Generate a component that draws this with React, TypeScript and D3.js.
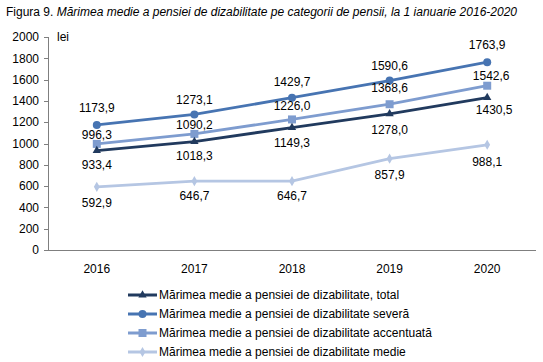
import React from "react";
import * as d3 from "d3";

const years = ["2016", "2017", "2018", "2019", "2020"];
const totalValues = [933.4, 1018.3, 1149.3, 1278.0, 1430.5];
const severaValues = [1173.9, 1273.1, 1429.7, 1590.6, 1763.9];
const accentuataValues = [996.3, 1090.2, 1226.0, 1368.6, 1542.6];
const medieValues = [592.9, 646.7, 646.7, 857.9, 988.1];
const yTicks = [0, 200, 400, 600, 800, 1000, 1200, 1400, 1600, 1800, 2000];
const seriesNames = [
  "Mărimea medie a pensiei de dizabilitate, total",
  "Mărimea medie a pensiei de dizabilitate severă",
  "Mărimea medie a pensiei de dizabilitate accentuată",
  "Mărimea medie a pensiei de dizabilitate medie",
];

const W = 543;
const H = 362;
const FONT = "'Liberation Sans', Arial, sans-serif";

type Series = {
  name: string;
  values: number[];
  color: string;
  marker: "triangle" | "circle" | "square" | "diamond";
  labelDy: number[];
  labelDx: number[];
};

const series: Series[] = [
  { name: seriesNames[0], values: totalValues, color: "#213A5E", marker: "triangle", labelDy: [14, 14, 15, 16, 12], labelDx: [0, 0, 0, 0, 7] },
  { name: seriesNames[1], values: severaValues, color: "#4774B2", marker: "circle", labelDy: [-17, -15, -16, -15, -17], labelDx: [0, 0, 0, 0, 0] },
  { name: seriesNames[2], values: accentuataValues, color: "#7E9CCF", marker: "square", labelDy: [-9, -9, -14, -16, -10], labelDx: [0, 0, 0, 0, 4] },
  { name: seriesNames[3], values: medieValues, color: "#B5C6E3", marker: "diamond", labelDy: [16, 15, 15, 16, 17], labelDx: [0, 0, 0, 0, 0] },
];

function Marker({ type, x, y, color }: { type: string; x: number; y: number; color: string }) {
  if (type === "circle") return <circle cx={x} cy={y} r={4} fill={color} />;
  if (type === "square") return <rect x={x - 4} y={y - 4} width={8} height={8} fill={color} />;
  if (type === "triangle") {
    const sym = d3.symbol().type(d3.symbolTriangle).size(30)();
    return <path d={sym || ""} transform={`translate(${x},${y})`} fill={color} />;
  }
  const sym = d3.symbol().type(d3.symbolDiamond).size(30)();
  return <path d={sym || ""} transform={`translate(${x},${y})`} fill={color} />;
}

export default function App() {
  const x = d3.scaleBand<string>().domain(years).range([48, 536]);
  const y = d3.scaleLinear().domain([0, 2000]).range([250, 37]);
  const cx = (yr: string) => (x(yr) as number) + x.bandwidth() / 2;
  const fmt = (v: number) => v.toFixed(1).replace(".", ",");

  const line = d3
    .line<number>()
    .x((_, i) => cx(years[i]))
    .y((d) => y(d));

  return (
    <svg width={W} height={H} style={{ position: "absolute", left: 0, top: 0, fontFamily: FONT }}>
      <rect width={W} height={H} fill="#fff" />
      <text x={6} y={16} fontSize={12} fill="#000">
        Figura 9. <tspan fontStyle="italic">Mărimea medie a pensiei de dizabilitate pe categorii de pensii, la 1 ianuarie 2016-2020</tspan>
      </text>
      {/* axes */}
      <line x1={48.5} x2={48.5} y1={y(2000)} y2={250.5} stroke="#7f7f7f" strokeWidth={1} />
      <line x1={48} x2={536} y1={250.5} y2={250.5} stroke="#7f7f7f" strokeWidth={1} />
      {yTicks.map((t) => (
        <g key={t}>
          <line x1={44} x2={48} y1={Math.round(y(t)) + 0.5} y2={Math.round(y(t)) + 0.5} stroke="#7f7f7f" />
          <text x={39} y={y(t)} dy="0.35em" textAnchor="end" fontSize={12} fill="#000">
            {t}
          </text>
        </g>
      ))}
      <text x={57} y={y(2000)} dy="0.3em" fontSize={12} fill="#000">lei</text>
      {years.map((yr) => (
        <text key={yr} x={cx(yr)} y={273} textAnchor="middle" fontSize={12} fill="#000">
          {yr}
        </text>
      ))}
      {/* lines - draw lightest first */}
      {[...series].reverse().map((s) => (
        <g key={s.name}>
          <path d={line(s.values) || ""} fill="none" stroke={s.color} strokeWidth={2.8} />
          {s.values.map((v, i) => (
            <Marker key={i} type={s.marker} x={cx(years[i])} y={y(v)} color={s.color} />
          ))}
        </g>
      ))}
      {series.map((s) =>
        s.values.map((v, i) => (
          <text
            key={s.name + i}
            x={cx(years[i]) + s.labelDx[i]}
            y={y(v) + s.labelDy[i]}
            dy="0.35em"
            textAnchor="middle"
            fontSize={12}
            fill="#000"
          >
            {fmt(v)}
          </text>
        ))
      )}
      {/* legend */}
      {series.map((s, i) => {
        const ly = 295 + i * 19;
        return (
          <g key={"lg" + i}>
            <line x1={128} x2={157} y1={ly} y2={ly} stroke={s.color} strokeWidth={3} />
            <Marker type={s.marker} x={142.5} y={ly} color={s.color} />
            <text x={159} y={ly} dy="0.35em" fontSize={12} fill="#000">
              {s.name}
            </text>
          </g>
        );
      })}
    </svg>
  );
}
